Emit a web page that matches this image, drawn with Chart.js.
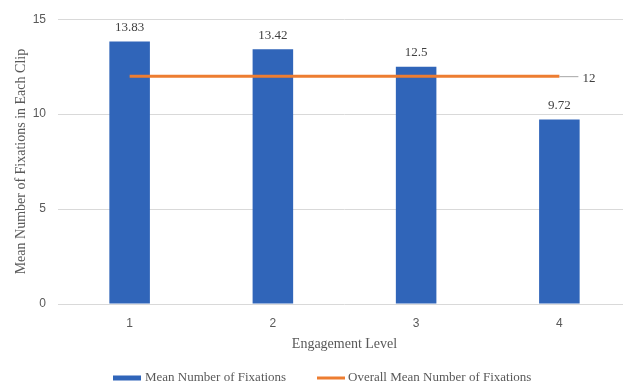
<!DOCTYPE html>
<html>
<head>
<meta charset="utf-8">
<script src="https://cdn.jsdelivr.net/npm/chart.js@4/dist/chart.umd.min.js"></script>
<style>
  html, body { margin: 0; padding: 0; background: #ffffff; overflow: hidden; }
  #wrap { position: relative; width: 631px; height: 384px; }
</style>
</head>
<body>
<div id="wrap"><canvas id="chart"></canvas></div>
<script>
// Engagement levels on the x axis
const categories = ['1', '2', '3', '4'];
// Mean number of fixations per clip at each engagement level
const meanFixations = [13.83, 13.42, 12.5, 9.72];
// Overall mean across all clips
const overallMean = [12, 12, 12, 12];
// Value axis range
const yMin = 0;
const yMax = 15;
const yStep = 5;

const BLUE = '#3065b9';
const ORANGE = '#ed7d31';
const SERIF = '"Liberation Serif", "Times New Roman", serif';
const SANS = '"Liberation Sans", Arial, sans-serif';

// Value labels above bars, the leader label for the mean line, and the legend
const annotations = {
  id: 'annotations',
  afterDatasetsDraw(chart) {
    const ctx = chart.ctx;
    ctx.save();
    ctx.font = '13px ' + SERIF;
    ctx.fillStyle = '#404040';
    ctx.textAlign = 'center';
    ctx.textBaseline = 'middle';
    const bars = chart.getDatasetMeta(0).data;
    bars.forEach((bar, i) => {
      ctx.fillText(String(meanFixations[i]), bar.x, bar.y - 14);
    });

    const pts = chart.getDatasetMeta(1).data;
    const last = pts[pts.length - 1];
    ctx.strokeStyle = '#a6a6a6';
    ctx.lineWidth = 1;
    ctx.beginPath();
    ctx.moveTo(last.x, last.y + 0.5);
    ctx.lineTo(last.x + 19, last.y + 0.5);
    ctx.stroke();
    ctx.textAlign = 'left';
    ctx.fillText(String(overallMean[overallMean.length - 1]), last.x + 23, last.y + 2);
    ctx.restore();
  },
  afterDraw(chart) {
    const ctx = chart.ctx;
    ctx.save();
    const y = 378;
    ctx.font = '13px ' + SERIF;
    ctx.textBaseline = 'middle';
    ctx.textAlign = 'left';
    // bar series swatch
    ctx.fillStyle = BLUE;
    ctx.fillRect(113, y - 2.5, 28, 5);
    ctx.fillStyle = '#595959';
    ctx.fillText(chart.data.datasets[0].label, 145, y);
    // line series swatch
    ctx.strokeStyle = ORANGE;
    ctx.lineWidth = 3;
    ctx.beginPath();
    ctx.moveTo(317, y);
    ctx.lineTo(345, y);
    ctx.stroke();
    ctx.fillText(chart.data.datasets[1].label, 348, y);
    ctx.restore();
  }
};

new Chart(document.getElementById('chart'), {
  data: {
    labels: categories,
    datasets: [
      {
        type: 'bar',
        label: 'Mean Number of Fixations',
        data: meanFixations,
        backgroundColor: BLUE,
        borderWidth: 0,
        barPercentage: 0.283,
        categoryPercentage: 1.0,
        order: 2
      },
      {
        type: 'line',
        label: 'Overall Mean Number of Fixations',
        data: overallMean,
        borderColor: ORANGE,
        backgroundColor: ORANGE,
        borderWidth: 3,
        pointRadius: 0,
        fill: false,
        order: 1
      }
    ]
  },
  options: {
    responsive: true,
    maintainAspectRatio: false,
    animation: false,
    layout: { padding: { top: 18, right: 0, bottom: 30, left: 0 } },
    plugins: {
      legend: { display: false },
      tooltip: { enabled: false }
    },
    scales: {
      x: {
        grid: { display: false, drawTicks: false },
        border: { display: false },
        ticks: {
          color: '#595959',
          font: { family: SANS, size: 12 },
          padding: 12
        },
        title: {
          display: true,
          text: 'Engagement Level',
          color: '#595959',
          font: { family: SERIF, size: 14 },
          padding: { top: 0, bottom: 1 }
        },
        afterFit(scale) { scale.height = 50; }
      },
      y: {
        min: yMin,
        max: yMax,
        ticks: {
          stepSize: yStep,
          color: '#595959',
          font: { family: SANS, size: 12 },
          padding: 12
        },
        grid: { color: '#d9d9d9', lineWidth: 1, drawTicks: false },
        border: { display: false },
        title: {
          display: true,
          text: 'Mean Number of Fixations in Each Clip',
          color: '#595959',
          font: { family: SERIF, size: 14 },
          padding: { top: 13, bottom: 0 }
        },
        afterFit(scale) { scale.width = 58; }
      }
    }
  },
  plugins: [annotations]
});
</script>
</body>
</html>
